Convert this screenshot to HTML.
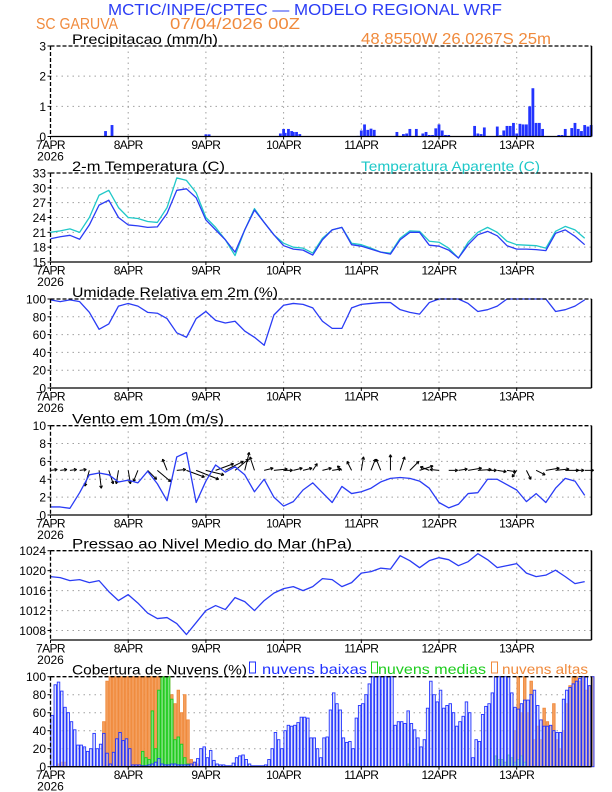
<!DOCTYPE html>
<html><head><meta charset="utf-8"><style>
html,body{margin:0;padding:0;background:#fff;}
svg{display:block;font-family:"Liberation Sans",Arial,sans-serif;}
</style></head><body>
<svg id="chart" width="612" height="792" viewBox="0 0 612 792" xmlns="http://www.w3.org/2000/svg">
<rect width="612" height="792" fill="#fff"/>
<text x="108" y="15" font-size="16" fill="#2a3cf5" textLength="394" lengthAdjust="spacingAndGlyphs">MCTIC/INPE/CPTEC — MODELO REGIONAL WRF</text>
<text x="36" y="29" font-size="16" fill="#f08a3c" textLength="82" lengthAdjust="spacingAndGlyphs">SC GARUVA</text>
<text x="170" y="29" font-size="16" fill="#f08a3c" textLength="130" lengthAdjust="spacingAndGlyphs">07/04/2026 00Z</text>
<text x="361" y="44" font-size="16" fill="#f08a3c" textLength="190" lengthAdjust="spacingAndGlyphs">48.8550W 26.0267S 25m</text>
<g id="layer"></g>
</svg>
<script>
const dayLabels=["7APR","8APR","9APR","10APR","11APR","12APR","13APR"];
const hours3=[0,3,6,9,12,15,18,21,24,27,30,33,36,39,42,45,48,51,54,57,60,63,66,69,72,75,78,81,84,87,90,93,96,99,102,105,108,111,114,117,120,123,126,129,132,135,138,141,144,147,150,153,156,159,162,165];
const precipHours=[17,19,48,49,71,72,72.5,73.5,74.5,75,76,77,95,96,97,98,99,100,107,109,110,111,113,115,116,117,118,119,120,121,122,123,131,132,133,134,138,139,140,141,142,143,144,145,146,147,148,149,150,151,152,157,158,159,161,162,163,164,165,166,167];
const precipValues=[0.18,0.38,0.07,0.07,0.1,0.25,0.12,0.25,0.18,0.15,0.15,0.08,0.02,0.2,0.4,0.22,0.26,0.22,0.15,0.08,0.1,0.25,0.25,0.1,0.15,0.05,0.05,0.27,0.4,0.2,0.05,0.05,0.35,0.1,0.08,0.3,0.33,0.04,0.2,0.35,0.35,0.45,0.1,0.42,0.4,0.4,1.0,1.6,0.45,0.45,0.25,0.05,0.05,0.25,0.28,0.45,0.25,0.18,0.38,0.33,0.38,0.38];
const tempValues=[19.7,20.1,20.4,19.6,22.5,26.5,27.5,24,22.5,22.3,22.0,22.1,24.8,29.5,29.8,28,23.5,21.5,19.5,17,21.5,25.5,23,20.5,18.3,17.6,17.4,16.4,19.5,21.5,22,18.5,18.2,17.6,17,16.6,19.5,21,21,18.4,18.2,17.4,15.8,18.5,20.5,21.2,20.3,18.3,17.6,17.6,17.5,17.3,20.8,21.5,20.2,18.5];
const apparentValues=[21,21.3,21.7,21,24,28.5,29.5,26,24,23.8,23.2,23,26,32,31.5,29,24,22,19.5,16.3,21.5,25.8,23,20.5,18.8,18,17.8,16.8,19.8,21.5,22,18.8,18.5,17.8,17,16.8,19.8,21.3,21.2,19.2,19,17.8,15.8,19,21,22,21,19.2,18.5,18.4,18.3,17.8,21.2,22.2,21.5,19.8];
const humidityValues=[99,97,99,97,85,66,72,92,95,92,85,84,78,62,57,78,86,76,73,75,64,57,48,82,93,95,94,90,75,67,67,90,94,95,96,96,88,85,83,96,100,100,100,95,86,88,92,100,100,100,100,100,86,88,92,99];
const windSpeed=[0.9,0.9,0.75,2.5,4.5,4.7,4.5,3.7,3.9,3.6,4.9,3.5,1.6,6.5,7,1.4,3.8,5.6,4.8,5.4,4.5,2.6,4,2,1,1.5,2.8,3.6,2.5,1.4,3.2,2.4,2.6,3,3.7,4.1,4.2,4.1,3.8,3,1.4,0.8,1.2,2.4,2.5,4,4,3.4,2.8,1.5,2.4,1.4,3,4.1,3.8,2.2];
const windU=[1.5,1.5,1.5,1.5,-1,0.5,1,-0.5,0.5,-1,2,3,-1,2,4,5,4,4,4,3,1,-1,2,3,2,2,2,1,2,2,-1,-1,0.5,1,-1,0,1,2,3,-2,-2,2,2,3,3,2,2,2,-1,1,2,3,3,3,2,2];
const windV=[0.2,0.2,0.2,0.2,-3.5,-4,-3,-3,-3,-2.5,-2,-2.5,2.5,0.2,-1.5,-2,-1,1.5,2,2.5,4,3,0.5,0.3,0,0.5,0.5,1.5,0.5,0.3,1,2,3,2.5,2.5,3.5,3,2,1,0.8,0.2,0,0.3,0.5,0.2,0,-0.3,-0.3,-1.5,-2,-1,0.5,0.3,0,0,0];
const pressureValues=[1018.8,1018.6,1018.0,1018.2,1017.6,1018.0,1015.8,1014.0,1015.2,1013.5,1011.5,1010.4,1010.6,1009.4,1007.2,1009.6,1012.0,1013.0,1012.2,1014.6,1013.8,1012.0,1014.0,1015.5,1016.4,1016.8,1016.0,1016.8,1018.4,1018.2,1016.8,1017.6,1019.5,1019.8,1020.5,1020.3,1023.0,1022.0,1020.6,1022.0,1022.6,1022.2,1021.0,1021.8,1023.4,1022.2,1020.6,1021.0,1021.4,1019.5,1018.8,1019.1,1020.1,1018.8,1017.4,1017.8];
const cloudLow=[57,91,94,84,66,60,50,41,24,24,22,17,20,37,20,25,37,15,3,16,31,38,29,31,
20,2,2,2,1,1,2,3,5,9,3,2,2,3,3,2,2,2,2,3,5,9,20,22,
10,18,7,3,2,2,1,1,4,10,12,13,8,3,1,1,1,1,2,8,20,38,30,20,
40,46,45,46,49,55,55,54,32,32,20,10,32,33,63,82,70,63,32,27,28,20,54,68,
70,80,92,100,100,100,100,100,100,100,46,50,50,48,62,48,41,32,22,30,65,95,80,72,
85,65,68,70,60,45,50,56,72,60,10,30,28,58,67,70,82,100,100,100,100,100,82,66,
64,70,74,74,80,85,68,52,45,45,46,40,38,38,75,85,88,92,95,98,100,100,90,100];
const cloudMid=[0,0,0,0,0,0,0,0,0,0,0,0,0,0,0,0,0,0,0,0,0,0,0,0,
0,0,0,0,17,10,8,62,20,85,100,100,100,75,30,33,25,10,3,0,0,0,0,0,
0,0,0,0,0,0,0,0,0,0,0,0,0,0,0,0,0,0,0,0,0,0,0,0,
0,0,0,0,0,0,0,0,0,0,0,0,0,0,0,0,0,0,0,0,0,0,0,0,
0,0,0,0,0,0,0,0,0,0,0,0,0,0,3,0,0,0,0,0,0,0,0,0,
0,0,0,0,0,0,0,0,0,0,0,0,0,0,0,0,0,12,8,8,5,13,10,5,
8,12,5,0,0,0,0,0,0,0,0,0,0,0,0,0,0,0,0,0,0,0,0,0];
const cloudHigh=[0,0,3,5,5,0,0,0,0,0,0,0,0,0,0,0,50,95,100,100,100,100,100,100,
100,100,100,100,100,100,100,100,100,100,100,100,100,80,70,85,60,80,52,8,5,3,0,0,
0,0,0,0,0,0,0,0,0,0,0,0,0,0,0,0,0,0,0,0,0,0,0,0,
0,0,0,0,0,0,0,0,0,0,0,0,0,0,0,0,0,0,0,0,0,0,0,0,
0,0,0,0,0,0,0,0,0,0,0,0,0,0,0,0,0,0,0,0,0,0,0,0,
0,0,0,0,0,0,0,0,0,0,0,0,0,0,0,0,0,0,0,0,0,0,0,40,
100,60,100,60,95,30,45,30,65,50,45,70,30,20,40,70,90,100,100,95,100,85,90,100];

const NS="http://www.w3.org/2000/svg";
const layer=document.getElementById('layer');
const X0=50.5, X1=591.5, PXH=3.2375;
function xOf(h){return X0+h*PXH;}
function mk(tag,attrs,parent){const e=document.createElementNS(NS,tag);for(const k in attrs)e.setAttribute(k,attrs[k]);(parent||layer).appendChild(e);return e;}
function panel(name,top,bot,min,max,ticks,title,titleLen){
  const g=mk('g',{});
  
  
  const y=v=>bot-(v-min)/(max-min)*(bot-top);
  // grid
  ticks.forEach(t=>{if(t>min&&t<max){const l=mk('line',{x1:X0,x2:X1,y1:y(t),y2:y(t),stroke:'#a0a0a0','stroke-width':1,'stroke-dasharray':'1.5,4'},g);
    }});
  for(let d=1;d<7;d++){const l=mk('line',{x1:xOf(d*24),x2:xOf(d*24),y1:top,y2:bot,stroke:'#a0a0a0','stroke-width':1,'stroke-dasharray':'1.5,4'},g);
    }
  // y tick labels
  ticks.forEach(t=>{const tx=mk('text',{x:46,y:y(t)+4.5,'font-size':12,'text-anchor':'end',fill:'#000'},g);tx.textContent=t;
    
    const tk=mk('line',{x1:X0-3,x2:X0,y1:y(t),y2:y(t),stroke:'#000'},g);});
  // x labels
  dayLabels.forEach((lb,i)=>{const tx=mk('text',{x:xOf(i*24),y:bot+12.5,'font-size':12,'text-anchor':'middle',fill:'#000','letter-spacing':'-0.6'},g);tx.textContent=lb;
    
    mk('line',{x1:xOf(i*24),x2:xOf(i*24),y1:bot,y2:bot+3,stroke:'#000'},g);});
  const yr=mk('text',{x:X0,y:bot+24,'font-size':12,'text-anchor':'middle',fill:'#000'},g);yr.textContent='2026';
  
  const tt=mk('text',{x:72,y:top-2,'font-size':14,fill:'#000',textLength:titleLen,lengthAdjust:'spacingAndGlyphs'},g);tt.textContent=title;
  
  const plot=mk('g',{},g);
  
  return {g,plot,y,top,bot};
}
function frame(p){
  mk('line',{x1:X0,x2:X1,y1:p.top,y2:p.top,stroke:'#000','stroke-width':1.3,'stroke-dasharray':'4,2'},p.g);
  mk('line',{x1:X0,x2:X0,y1:p.top,y2:p.bot,stroke:'#000','stroke-width':1.3,'stroke-dasharray':'4,2'},p.g);
  mk('line',{x1:X0,x2:X1,y1:p.bot,y2:p.bot,stroke:'#000','stroke-width':1.3},p.g);
  mk('line',{x1:X1,x2:X1,y1:p.top,y2:p.bot,stroke:'#000','stroke-width':1.5},p.g);
}
function line(p,hs,vals,color,name){
  const d=vals.map((v,i)=>(i?'L':'M')+xOf(hs[i]).toFixed(2)+','+p.y(v).toFixed(2)).join('');
  const e=mk('path',{d,fill:'none',stroke:color,'stroke-width':1.3,'stroke-linejoin':'round'},p.plot);
  
  
}

// Precip
const p1=panel('precip',46,136.5,0,3,[0,1,2,3],'Precipitacao (mm/h)',146);
precipHours.forEach((h,i)=>{const y=p1.y(precipValues[i]);
  const r=mk('rect',{x:xOf(h)-1.4,y:y,width:2.8,height:p1.bot-y,fill:'#2233ff'},p1.plot);
  
  });
frame(p1);

// Temperature
const p2=panel('temperature',173,262,15,33,[15,18,21,24,27,30,33],'2-m Temperatura (C)',153);
const at=mk('text',{x:361,y:171,'font-size':14,fill:'#1ec8c8',textLength:179,lengthAdjust:'spacingAndGlyphs'},p2.g);at.textContent='Temperatura Aparente (C)';


line(p2,hours3,apparentValues,'#20c8c8','apparent-temp-line');
line(p2,hours3,tempValues,'#2a3cf5','temperature-line');
frame(p2);

// Humidity
const p3=panel('humidity',299,388,0,100,[0,20,40,60,80,100],'Umidade Relativa em 2m (%)',206);
line(p3,hours3,humidityValues,'#2a3cf5','humidity-line');
frame(p3);

// Wind
const p4=panel('wind',425.7,515,0,10,[0,2,4,6,8,10],'Vento em 10m (m/s)',152);
const base=p4.y(5), sc=4.5;
windU.forEach((u,i)=>{const x=xOf(hours3[i]);const x2=x+u*sc, y2=base-windV[i]*sc;
  const a=mk('line',{x1:x,y1:base,x2:x2,y2:y2,stroke:'#000','stroke-width':1},p4.plot);
  
  
  const ang=Math.atan2(y2-base,x2-x),L=3;
  const hd=mk('path',{d:`M${x2},${y2}L${x2-L*Math.cos(ang-0.5)},${y2-L*Math.sin(ang-0.5)}M${x2},${y2}L${x2-L*Math.cos(ang+0.5)},${y2-L*Math.sin(ang+0.5)}`,stroke:'#000','stroke-width':1,fill:'none'},p4.plot);
  
  });
line(p4,hours3,windSpeed,'#2a3cf5','wind-speed-line');
frame(p4);

// Pressure
const p5=panel('pressure',550.7,640,1006.1,1024,[1008,1012,1016,1020,1024],'Pressao ao Nivel Medio do Mar (hPa)',280);
line(p5,hours3,pressureValues,'#2a3cf5','pressure-line');
frame(p5);

// Clouds
const p6=panel('clouds',676.7,766.7,0,100,[0,20,40,60,80,100],'Cobertura de Nuvens (%)',175);
function bars(vals,fill,stroke,name){vals.forEach((v,h)=>{if(v<=0)return;const y=p6.y(v);
  const r=mk('rect',{x:xOf(h)+0.3,y:y,width:2.5,height:p6.bot-y,fill:fill,stroke:stroke,'stroke-width':0.9},p6.plot);
  
  });}
bars(cloudHigh,'#f4a060','#f08a3c','cloud-high-bar');
bars(cloudMid,'#7ee07e','#1ccc1c','cloud-mid-bar');
bars(cloudLow,'rgba(200,208,250,0.55)','#2233ff','cloud-low-bar');
const legend=[[249,262,'nuvens baixas','#2233ff',105],[371,378,'nuvens medias','#1ccc1c',108],[491,502,'nuvens altas','#f08a3c',86]];
legend.forEach(l=>{const b=mk('rect',{x:l[0]+0.5,y:662,width:6,height:11,fill:'none',stroke:l[3],'stroke-width':1},p6.g);
  
  
  const t=mk('text',{x:l[1],y:674,'font-size':14,fill:l[3],textLength:l[4],lengthAdjust:'spacingAndGlyphs'},p6.g);t.textContent=l[2];
  
  });
frame(p6);
</script>
</body></html>
